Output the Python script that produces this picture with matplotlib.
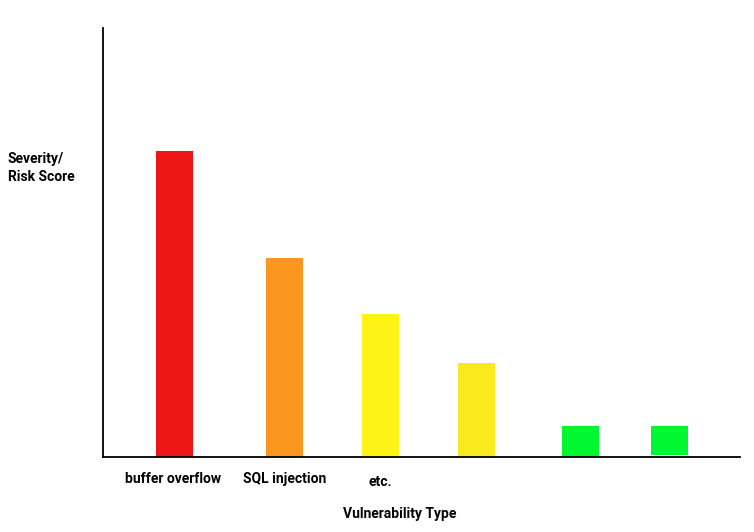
import matplotlib.pyplot as plt
from matplotlib.transforms import blended_transform_factory

plt.rcParams['font.family'] = ['Roboto', 'DejaVu Sans']

# bar data (x position and height in chart units)
positions = [71.5, 181.5, 278, 373.5, 477.5, 566.5]
scores = [306, 199, 143, 94, 31, 29]
bases = [0, 0, 0, 0, 0, 2]
colors = ["#ee1717", "#fb961f", "#fdf316", "#f9ea1f", "#00f730", "#00f730"]

# only the first three categories carry a label
labels = ["buffer overflow", "SQL injection", "etc."]
label_pos = [70, 182, 277]
label_y = [-22, -22, -25]

fig = plt.figure(figsize=(7.54, 5.32), dpi=100)
ax = fig.add_axes([0.1366, 0.141, 0.8448, 0.806])

# soft shadow under the red bar
ax.bar(positions[0] + 1, 4, width=37, bottom=-4, color="#d0d0d0", zorder=1)
ax.bar(positions, scores, width=37, bottom=bases, color=colors, zorder=2)

ax.set_xlim(0, 637)
ax.set_ylim(0, 429)
ax.set_xticks([])
ax.set_yticks([])
for side in ("top", "right"):
    ax.spines[side].set_visible(False)
for side in ("left", "bottom"):
    ax.spines[side].set_linewidth(1.3)

trans = blended_transform_factory(ax.transData, ax.transAxes)
for lab, x, dy in zip(labels, label_pos, label_y):
    ax.annotate(lab, xy=(x, 0), xycoords=trans, xytext=(0, dy),
                textcoords="offset pixels", ha="center", va="center",
                fontsize=10, fontweight="bold")

fig.text(400 / 754, 1 - 514 / 532, "Vulnerability Type", ha="center",
         va="center", fontsize=10, fontweight="bold")
fig.text(8 / 754, 1 - 168 / 532, "Severity/\nRisk Score", ha="left",
         va="center", fontsize=10, fontweight="bold", linespacing=1.45)

fig.savefig("out.png", dpi=100)
